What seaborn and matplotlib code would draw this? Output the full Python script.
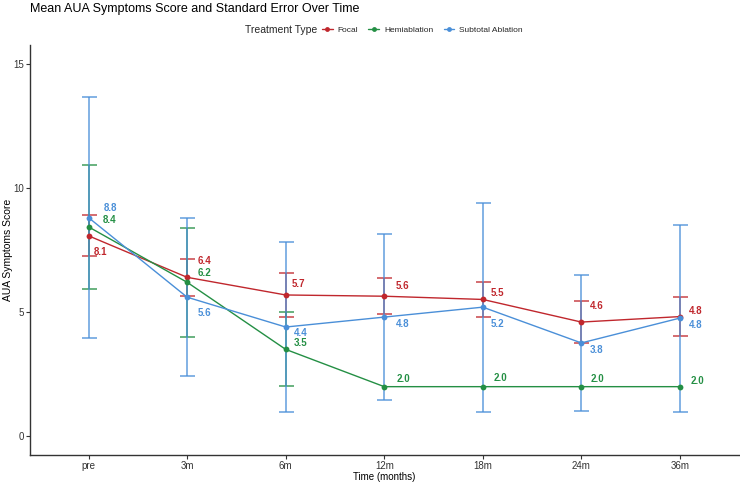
import matplotlib
matplotlib.use("Agg")
import matplotlib.pyplot as plt
import seaborn as sns
import pandas as pd
import numpy as np
from matplotlib.lines import Line2D

# ---- data ----
times = ["pre", "3m", "6m", "12m", "18m", "24m", "36m"]
groups = ["Focal", "Hemiablation", "Subtotal Ablation"]
focal_mean = [8.07, 6.40, 5.69, 5.64, 5.51, 4.60, 4.82]
focal_se = [0.83, 0.74, 0.88, 0.735, 0.715, 0.83, 0.79]
hemi_mean = [8.43, 6.20, 3.50, 2.0, 2.0, 2.0, 2.0]
hemi_se = [2.50, 2.19, 1.49, np.nan, np.nan, np.nan, np.nan]
sub_mean = [8.80, 5.60, 4.40, 4.80, 5.20, 3.76, 4.76]
sub_se = [4.84, 3.19, 3.41, 3.33, 4.21, 2.75, 3.76]

# ---- styles ----
palette = {"Focal": "#C0272D", "Hemiablation": "#248F44", "Subtotal Ablation": "#4A8FD8"}
# label offsets in pixels (dx right, dy down)
label_offsets = {
    "Focal": [(12, 16), (17, -16), (13, -11), (18, -10), (15, -6), (15, -16), (16, -6)],
    "Hemiablation": [(21, -7), (17, -9), (15, -6), (19, -8), (18, -9), (16, -8), (18, -6)],
    "Subtotal Ablation": [(22, -10), (17, 16), (15, 6), (18, 7), (15, 17), (15, 7), (16, 7)],
}

means = {"Focal": focal_mean, "Hemiablation": hemi_mean, "Subtotal Ablation": sub_mean}
ses = {"Focal": focal_se, "Hemiablation": hemi_se, "Subtotal Ablation": sub_se}

rows = []
for g in groups:
    for t, m, s in zip(times, means[g], ses[g]):
        rows.append({"time": t, "group": g, "mean": m, "se": s})
df = pd.DataFrame(rows)

sns.set_theme(style="white")
plt.rcParams["font.family"] = ["Liberation Sans", "DejaVu Sans"]

DPI = 100
fig = plt.figure(figsize=(7.40, 4.83), dpi=DPI)
ax_left, ax_right, ax_top, ax_bottom = 29.5, 739, 45, 455
ax = fig.add_axes([ax_left / 740, 1 - ax_bottom / 483, (ax_right - ax_left) / 740,
                   (ax_bottom - ax_top) / 483])

xpos = {t: i for i, t in enumerate(times)}

# error bars
for g in groups:
    sub = df[df.group == g]
    x = sub.time.map(xpos).values
    ax.errorbar(x, sub["mean"].values, yerr=sub["se"].values, fmt="none",
                ecolor=palette[g], elinewidth=1.2, capsize=5.4, capthick=1.2,
                alpha=0.8, zorder=1)

sns.lineplot(data=df, x="time", y="mean", hue="group", hue_order=groups,
             palette=palette, marker="o", markersize=4.2, markeredgewidth=0,
             linewidth=1.0, sort=False, legend=False, ax=ax, zorder=3)

# value labels
px2pt = 72.0 / DPI
for g in groups:
    sub = df[df.group == g]
    for (t, m), (dx, dy) in zip(zip(sub.time, sub["mean"]), label_offsets[g]):
        ax.annotate(f"{m:.1f}", xy=(xpos[t], m), xytext=(dx * px2pt, -dy * px2pt),
                    textcoords="offset points", ha="center", va="center",
                    fontsize=7, fontweight="bold", color=palette[g], zorder=5)

ax.set_xlim(-0.6, len(times) - 0.4)
ax.set_ylim(-0.75, 15.75)
ax.set_yticks([0, 5, 10, 15])
ax.set_xticks(range(len(times)))
ax.set_xticklabels(times)

for side in ["top", "right"]:
    ax.spines[side].set_visible(False)
for side in ["left", "bottom"]:
    ax.spines[side].set_color("#333333")
    ax.spines[side].set_linewidth(1.0)
ax.tick_params(axis="both", which="major", length=3, width=0.8, color="#333333",
               labelsize=7, labelcolor="#333333", pad=1.0, left=True, bottom=True)
ax.set_xlabel("Time (months)", fontsize=7, color="black")
ax.set_ylabel("AUA Symptoms Score", fontsize=7.5, color="black")
ax.yaxis.set_label_coords((8 - ax_left) / (ax_right - ax_left), 0.5)
ax.xaxis.set_label_coords(0.5, -(476.5 - ax_bottom) / (ax_bottom - ax_top))
ax.xaxis.label.set_va("center")
ax.yaxis.label.set_va("center")
ax.grid(False)

fig.text(30 / 740, 1 - 9 / 483, "Mean AUA Symptoms Score and Standard Error Over Time",
         fontsize=9, ha="left", va="center", color="black")

# legend
fig.text(245 / 740, 1 - 30 / 483, "Treatment Type", fontsize=7.5, ha="left", va="center")
handles = [Line2D([0], [0], color=palette[g], marker="o", markersize=3.5,
                  markeredgewidth=0, linewidth=1.0) for g in groups]
fig.legend(handles, groups, loc="center left", bbox_to_anchor=(322 / 740, 1 - 30 / 483),
           ncol=3, frameon=False, fontsize=6, handlelength=1.3, handletextpad=0.6,
           columnspacing=1.2, borderpad=0, borderaxespad=0)

fig.savefig("out.png", dpi=DPI)
